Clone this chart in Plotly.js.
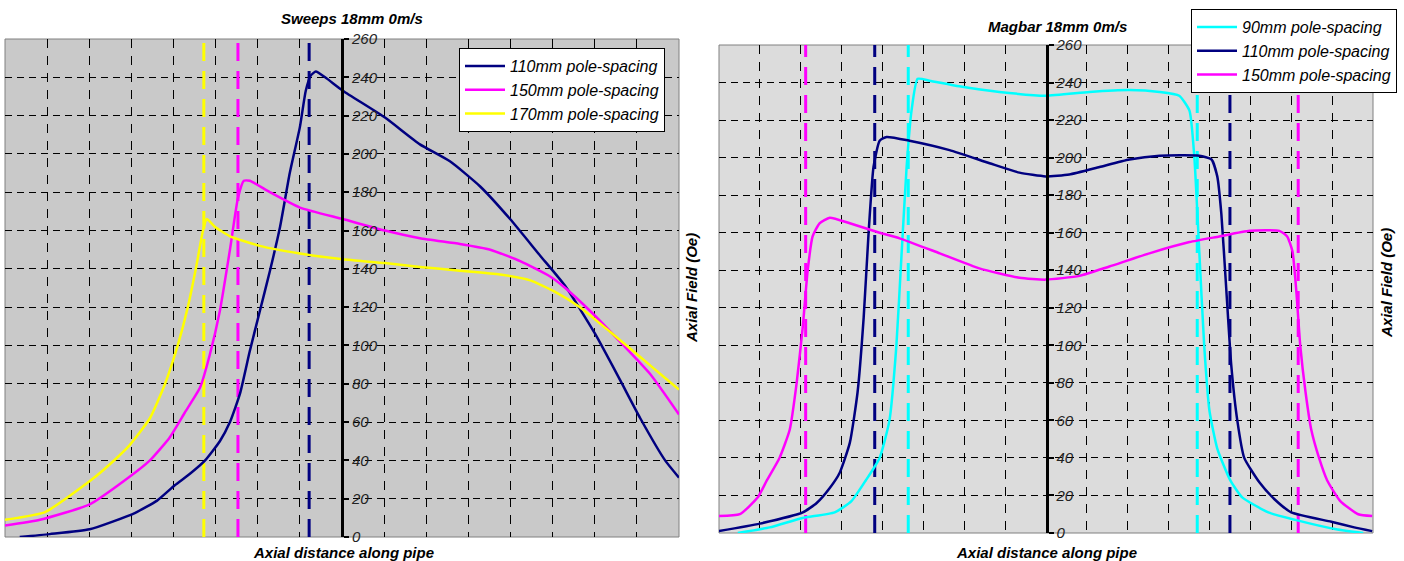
<!DOCTYPE html>
<html><head><meta charset="utf-8">
<script src="https://cdn.plot.ly/plotly-3.0.1.min.js"></script>
<style>html,body{margin:0;padding:0;background:#fff}#chart{width:1404px;height:561px}</style>
</head><body><div id="chart"></div><script>
// ---------- Sweeps 18mm 0m/s (left) ----------
const sweepsX110 = [-7.65,-6.94,-5.99,-4.92,-4.39,-3.97,-3.61,-3.25,-2.90,-2.66,-2.42,-2.19,-1.95,-1.71,-1.47,-1.24,-1.00,-0.86,-0.74,-0.62,-0.40,0.02,1.02,1.85,2.57,3.28,3.99,4.70,5.30,6.01,6.60,7.08,7.67,8.00];
const sweepsY110 = [0,1.5,4,12.5,19,27,33,40,50,60,75,97,118,139,162,190,214,233,241,243,240,233,219,205,196,183,166,147,131,106,82,62,40,31];
const sweepsX150 = [-8.00,-7.17,-5.99,-5.13,-4.56,-4.09,-3.73,-3.37,-3.14,-2.90,-2.66,-2.47,-2.33,-2.19,-1.71,-1.00,0.02,1.02,1.85,2.80,3.52,4.23,4.94,5.30,5.89,6.60,7.32,8.00];
const sweepsY150 = [6,9,17,30,40,52,65,78,95,118,150,177,186,186,180,172,166,160,156,153,150,144,136,130,118,102,85,64];
const sweepsX170 = [-8.00,-7.05,-5.94,-5.51,-5.04,-4.56,-4.20,-3.90,-3.66,-3.47,-3.30,-3.21,-3.02,-2.66,-1.95,-1.00,0.02,1.02,1.85,2.80,3.75,4.47,5.06,5.65,6.37,7.08,7.67,8.00];
const sweepsY170 = [9,13,30,38,48,62,80,100,120,140,160,166,162,157,152,148,145,143,141,139,137,134,128,120,107,94,83,77];
const sweepsPole110 = [-0.78];
const sweepsPole150 = [-2.47];
const sweepsPole170 = [-3.28];

// ---------- Magbar 18mm 0m/s (right) ----------
const magbarX90 = [-7.54,-6.76,-5.96,-5.17,-4.76,-4.41,-4.07,-3.83,-3.66,-3.53,-3.41,-3.29,-3.14,-2.85,-2.12,-1.14,-0.01,1.06,2.04,2.78,3.26,3.51,3.63,3.75,3.87,4.00,4.19,4.51,4.80,5.44,6.10,7.10,7.76];
const magbarY90 = [0,3,8,11,17,28,40,60,100,150,195,225,242,241,238,235,233,235,236,235,233,225,200,150,100,65,45,28,19,11,7,2,0];
const magbarX110 = [-8.00,-7.00,-5.95,-5.61,-5.29,-5.05,-4.80,-4.61,-4.46,-4.34,-4.22,-4.07,-3.90,-3.34,-2.36,-1.38,-0.65,-0.01,0.57,1.31,2.04,2.78,3.75,4.05,4.19,4.29,4.41,4.53,4.68,4.85,5.22,5.59,6.00,6.98,7.54,7.98];
const magbarY110 = [1,5,11,16,24,32,48,75,115,160,195,209,211,209,204,197,192,190,191,195,199,201,201,199,190,170,130,90,60,40,27,18,11,6,3,1];
const magbarX150 = [-8.00,-7.49,-7.05,-6.83,-6.52,-6.27,-6.10,-5.95,-5.83,-5.71,-5.54,-5.29,-4.80,-4.07,-3.58,-2.60,-1.63,-0.65,-0.01,0.82,1.55,2.53,3.51,4.24,4.98,5.71,5.90,6.03,6.12,6.22,6.35,6.49,6.68,6.88,7.20,7.64,7.98];
const magbarY150 = [9,10,19,28,40,55,80,110,140,158,165,168,165,160,157,149,141,136,135,137,142,149,155,158,161,161,158,150,130,100,75,55,40,28,17,10,9];
const magbarPole90 = [-3.37, 3.70];
const magbarPole110 = [-4.19, 4.50];
const magbarPole150 = [-5.88, 6.17];

const yTicks = [0,20,40,60,80,100,120,140,160,180,200,220,240,260];

const NAVY = '#000080', MAG = '#ff00ff', YEL = '#ffff00', CYAN = '#00ffff';
const W = 1404, H = 561;
const FONT = 'Liberation Sans, Arial, sans-serif';

function curve(x, y, name, color, xa, ya, legend) {
  return {x: x, y: y, name: name, type: 'scatter', mode: 'lines',
    line: {color: color, width: 2.5, shape: 'spline', smoothing: 0.5}, xaxis: xa, yaxis: ya, legend: legend,
    hoverinfo: 'skip'};
}
function poles(ps, color, xa, ya) {
  const x = [], y = [];
  ps.forEach(function (p, i) { if (i) { x.push(null); y.push(null); } x.push(p, p); y.push(0, 260); });
  return {x: x, y: y, type: 'scatter', mode: 'lines', showlegend: false,
    line: {color: color, width: 3, dash: '18px,10px'}, xaxis: xa, yaxis: ya, hoverinfo: 'skip'};
}

const traces = [
  poles(sweepsPole170, YEL, 'x', 'y'),
  poles(sweepsPole150, MAG, 'x', 'y'),
  poles(sweepsPole110, NAVY, 'x', 'y'),
  curve(sweepsX110, sweepsY110, '110mm pole-spacing', NAVY, 'x', 'y', 'legend'),
  curve(sweepsX150, sweepsY150, '150mm pole-spacing', MAG, 'x', 'y', 'legend'),
  curve(sweepsX170, sweepsY170, '170mm pole-spacing', YEL, 'x', 'y', 'legend'),
  poles(magbarPole150, MAG, 'x2', 'y2'),
  poles(magbarPole110, NAVY, 'x2', 'y2'),
  poles(magbarPole90, CYAN, 'x2', 'y2'),
  curve(magbarX90, magbarY90, '90mm pole-spacing', CYAN, 'x2', 'y2', 'legend2'),
  curve(magbarX110, magbarY110, '110mm pole-spacing', NAVY, 'x2', 'y2', 'legend2'),
  curve(magbarX150, magbarY150, '150mm pole-spacing', MAG, 'x2', 'y2', 'legend2')
];

function xAxis(domain, anchor) {
  return {domain: domain, anchor: anchor, range: [-8, 8], dtick: 1, tick0: 0,
    showticklabels: false, ticks: '', showline: false, zeroline: false,
    showgrid: true, gridcolor: '#000000', gridwidth: 1, griddash: '9px,8px', fixedrange: true};
}
function yAxis(domain, pos) {
  return {domain: domain, anchor: 'free', position: pos, side: 'right',
    range: [0, 260], tickmode: 'array', tickvals: yTicks, ticktext: yTicks.map(String),
    showline: true, linecolor: '#000000', linewidth: 3,
    ticks: 'outside', ticklen: 5, tickwidth: 2, tickcolor: '#000000',
    tickfont: {family: FONT, size: 15, color: '#222222', style: 'italic'},
    showgrid: true, gridcolor: '#000000', gridwidth: 1, griddash: '7px,5px',
    zeroline: false, fixedrange: true};
}

const L = {x0: 5, x1: 679, y0: 39, y1: 537, axis: 342};
const R = {x0: 719, x1: 1373, y0: 45, y1: 533, axis: 1046.5};

const legendFont = {family: FONT, size: 16, color: '#000000', style: 'italic'};

const layout = {
  width: W, height: H, margin: {l: 0, r: 0, t: 0, b: 0},
  paper_bgcolor: '#ffffff', plot_bgcolor: 'rgba(0,0,0,0)', showlegend: true,
  xaxis: xAxis([L.x0 / W, L.x1 / W], 'y'),
  yaxis: yAxis([1 - L.y1 / H, 1 - L.y0 / H], L.axis / W),
  xaxis2: xAxis([R.x0 / W, R.x1 / W], 'y2'),
  yaxis2: yAxis([1 - R.y1 / H, 1 - R.y0 / H], R.axis / W),
  shapes: [
    {type: 'rect', xref: 'x domain', yref: 'y domain', x0: 0, x1: 1, y0: 0, y1: 1,
      fillcolor: '#c9c9c9', line: {color: '#808080', width: 1}, layer: 'below'},
    {type: 'rect', xref: 'x2 domain', yref: 'y2 domain', x0: 0, x1: 1, y0: 0, y1: 1,
      fillcolor: '#dcdcdc', line: {color: '#808080', width: 1}, layer: 'below'}
  ],
  legend: {x: 459 / W, y: 1 - 48 / H, xanchor: 'left', yanchor: 'top',
    bgcolor: '#ffffff', bordercolor: '#000000', borderwidth: 1,
    font: legendFont, itemwidth: 40, tracegroupgap: 0},
  legend2: {x: 1191 / W, y: 1 - 9 / H, xanchor: 'left', yanchor: 'top',
    bgcolor: '#ffffff', bordercolor: '#000000', borderwidth: 1,
    font: legendFont, itemwidth: 40, tracegroupgap: 0},
  annotations: [
    {text: 'Sweeps 18mm 0m/s', xref: 'paper', yref: 'paper', x: 352 / W, y: 1 - 18 / H,
      xanchor: 'center', yanchor: 'middle', showarrow: false,
      font: {family: FONT, size: 15, color: '#000000', weight: 'bold', style: 'italic'}},
    {text: 'Magbar 18mm 0m/s', xref: 'paper', yref: 'paper', x: 1057 / W, y: 1 - 26 / H,
      xanchor: 'center', yanchor: 'middle', showarrow: false,
      font: {family: FONT, size: 15, color: '#000000', weight: 'bold', style: 'italic'}},
    {text: 'Axial distance along pipe', xref: 'paper', yref: 'paper', x: 343 / W, y: 1 - 552 / H,
      xanchor: 'center', yanchor: 'middle', showarrow: false,
      font: {family: FONT, size: 15, color: '#000000', weight: 'bold', style: 'italic'}},
    {text: 'Axial distance along pipe', xref: 'paper', yref: 'paper', x: 1046 / W, y: 1 - 552 / H,
      xanchor: 'center', yanchor: 'middle', showarrow: false,
      font: {family: FONT, size: 15, color: '#000000', weight: 'bold', style: 'italic'}},
    {text: 'Axial Field (Oe)', xref: 'paper', yref: 'paper', x: 691 / W, y: 1 - 288 / H,
      xanchor: 'center', yanchor: 'middle', showarrow: false, textangle: -90,
      font: {family: FONT, size: 15, color: '#000000', weight: 'bold', style: 'italic'}},
    {text: 'Axial Field (Oe)', xref: 'paper', yref: 'paper', x: 1386 / W, y: 1 - 283 / H,
      xanchor: 'center', yanchor: 'middle', showarrow: false, textangle: -90,
      font: {family: FONT, size: 15, color: '#000000', weight: 'bold', style: 'italic'}}
  ]
};

Plotly.newPlot('chart', traces, layout, {staticPlot: true, displayModeBar: false});
</script></body></html>
